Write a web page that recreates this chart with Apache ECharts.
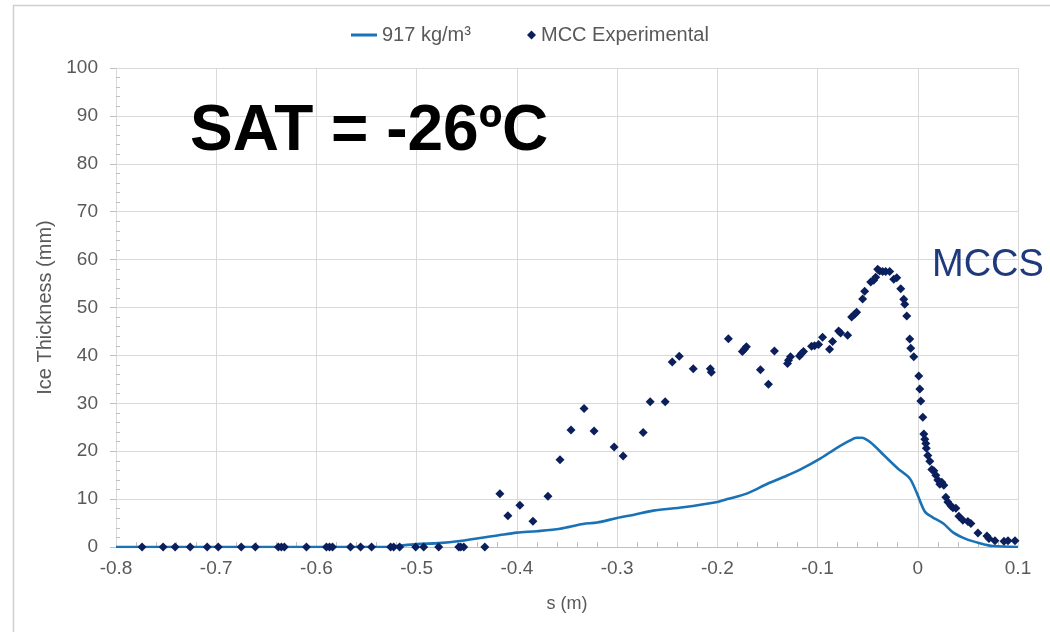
<!DOCTYPE html>
<html>
<head>
<meta charset="utf-8">
<title>Ice Thickness – SAT = -26ºC</title>
<script src="https://cdn.jsdelivr.net/npm/echarts@6/dist/echarts.min.js"></script>
<style>
  html, body { margin: 0; padding: 0; background: #ffffff; }
  #chart { width: 1050px; height: 632px; }
</style>
</head>
<body>
<div id="chart"></div>
<script>
// Simulated ice profile (917 kg/m³): surface distance s (m) and thickness (mm)
const lineX = [-0.80, -0.70, -0.60, -0.53, -0.52, -0.50, -0.478, -0.457, -0.417, -0.400, -0.380, -0.357,
  -0.334, -0.320, -0.300, -0.284, -0.264, -0.234, -0.200, -0.190, -0.170, -0.150, -0.134, -0.117,
  -0.097, -0.083, -0.068, -0.061, -0.056, -0.047, -0.034, -0.020, -0.008, -0.001, 0.007, 0.014,
  0.0255, 0.0355, 0.049, 0.062, 0.075, 0.100];
const lineY = [0, 0, 0, 0, 0.2, 0.6, 0.8, 1.25, 2.5, 3.0, 3.3, 3.8,
  4.8, 5.1, 6.05, 6.7, 7.6, 8.3, 9.4, 10.0, 11.2, 13.2, 14.6, 16.2,
  18.5, 20.4, 22.2, 22.8, 22.8, 21.8, 19.2, 16.4, 14.3, 11.3, 7.4, 6.3,
  4.9, 3.0, 1.6, 0.8, 0.2, 0];

// MCC experimental measurements
const expX = [-0.774, -0.753, -0.741, -0.726, -0.709, -0.698, -0.675, -0.661, -0.638, -0.635, -0.632,
  -0.610, -0.590, -0.587, -0.584, -0.566, -0.556, -0.545, -0.526, -0.523, -0.517, -0.501, -0.493,
  -0.478, -0.458, -0.456, -0.453, -0.432,
  -0.417, -0.409, -0.397, -0.384, -0.369, -0.357, -0.346, -0.333, -0.323, -0.303, -0.294, -0.274,
  -0.267, -0.252, -0.245, -0.238, -0.224, -0.207, -0.206, -0.189, -0.175, -0.173, -0.171, -0.157,
  -0.149, -0.143, -0.130, -0.129, -0.127, -0.118, -0.116, -0.114, -0.106, -0.103, -0.099, -0.095,
  -0.088, -0.085, -0.079, -0.077, -0.070, -0.066, -0.063, -0.061, -0.055, -0.053, -0.047, -0.044,
  -0.042, -0.040, -0.038, -0.035, -0.032, -0.028, -0.024, -0.021, -0.017, -0.014, -0.013, -0.011,
  -0.008, -0.007, -0.004, 0.001, 0.002, 0.003, 0.005, 0.006, 0.007, 0.008, 0.0085, 0.010,
  0.012, 0.014, 0.016, 0.018, 0.020, 0.022, 0.024, 0.026, 0.028, 0.030, 0.033, 0.035,
  0.038, 0.041, 0.045, 0.050, 0.053, 0.060, 0.069, 0.071, 0.077, 0.086, 0.090, 0.097];
const expY = [0, 0, 0, 0, 0, 0, 0, 0, 0, 0, 0,
  0, 0, 0, 0, 0, 0, 0, 0, 0, 0, 0, 0,
  0, 0, 0, 0, 0,
  11.1, 6.5, 8.7, 5.4, 10.6, 18.2, 24.4, 28.9, 24.2, 20.9, 19.0, 23.9,
  30.3, 30.3, 38.6, 39.8, 37.2, 37.2, 36.5, 43.5, 40.8, 41.3, 41.8, 37.0,
  34.0, 40.9, 38.3, 39.0, 39.7, 39.9, 40.4, 40.8, 41.9, 42.0, 42.3, 43.8,
  41.3, 42.9, 45.1, 44.7, 44.2, 48.0, 48.6, 49.0, 51.8, 53.4, 55.3, 55.7,
  56.3, 58.0, 57.6, 57.5, 57.5, 57.5, 55.9, 56.2, 53.9, 51.7, 50.7, 48.2,
  43.4, 41.5, 39.7, 35.7, 33.0, 30.5, 27.1, 23.6, 22.5, 21.6, 20.6, 19.1,
  17.9, 16.2, 15.9, 15.0, 14.0, 13.1, 13.5, 12.9, 10.4, 9.4, 8.6, 8.2,
  8.1, 6.4, 5.6, 5.3, 4.9, 2.9, 2.3, 1.8, 1.3, 1.2, 1.3, 1.3];

const seriesNames = ['917 kg/m³', 'MCC Experimental'];
const xName = 's (m)';
const yName = 'Ice Thickness (mm)';
const titleText = 'SAT = -26ºC';
const tagText = 'MCCS';

const lineData = lineX.map((x, i) => [x, lineY[i]]);
const expData = expX.map((x, i) => [x, expY[i]]);

const labelColor = '#595959';
const gridColor = '#d9d9d9';
const tickColor = '#bfbfbf';
const baseFont = 'Liberation Sans, Arial, sans-serif';

const chart = echarts.init(document.getElementById('chart'), null, { renderer: 'canvas' });

chart.setOption({
  animation: false,
  backgroundColor: '#ffffff',
  grid: { left: 116, right: 32, top: 68, bottom: 85, containLabel: false },
  legend: [
    {
      data: [seriesNames[0]],
      left: 346, top: 20,
      icon: 'rect', itemWidth: 26, itemHeight: 3,
      textStyle: { color: labelColor, fontSize: 20, fontFamily: baseFont }
    },
    {
      data: [seriesNames[1]],
      left: 522, top: 20,
      icon: 'diamond', itemWidth: 9, itemHeight: 9,
      textStyle: { color: labelColor, fontSize: 20, fontFamily: baseFont }
    }
  ],
  xAxis: {
    type: 'value',
    min: -0.8, max: 0.1, interval: 0.1,
    name: xName, nameLocation: 'middle', nameGap: 48,
    nameTextStyle: { color: labelColor, fontSize: 18, fontFamily: baseFont },
    axisLine: { show: true, onZero: false, lineStyle: { color: tickColor, width: 1 } },
    axisTick: { show: false, inside: true },
    minorTick: { show: true, splitNumber: 5, length: 5, lineStyle: { color: tickColor } },
    axisLabel: {
      color: labelColor, fontSize: 19, fontFamily: baseFont, margin: 12,
      formatter: v => String(Number(v.toFixed(1)))
    },
    splitLine: { show: true, lineStyle: { color: gridColor, width: 1 } }
  },
  yAxis: [
    {
      type: 'value',
      min: 0, max: 100, interval: 10,
      name: yName, nameLocation: 'middle', nameGap: 58,
      nameTextStyle: { color: labelColor, fontSize: 20, fontFamily: baseFont },
      axisLine: { show: true, onZero: false, lineStyle: { color: gridColor, width: 1 } },
      axisTick: { show: true, length: 6, lineStyle: { color: tickColor } },
      minorTick: { show: false },
      axisLabel: { color: labelColor, fontSize: 19, fontFamily: baseFont, margin: 18 },
      splitLine: { show: true, lineStyle: { color: gridColor, width: 1 } }
    },
    {
      // companion axis carrying the inside minor ticks
      type: 'value',
      position: 'left',
      min: 0, max: 100, interval: 10,
      axisLine: { show: false, onZero: false },
      axisTick: { show: false, inside: true },
      minorTick: { show: true, splitNumber: 5, length: 4, lineStyle: { color: tickColor } },
      axisLabel: { show: false },
      splitLine: { show: false }
    }
  ],
  series: [
    {
      name: seriesNames[0],
      type: 'line',
      data: lineData,
      showSymbol: false,
      symbol: 'none',
      smooth: 0.3,
      lineStyle: { color: '#1a72b6', width: 2.6 },
      itemStyle: { color: '#1a72b6' },
      z: 2
    },
    {
      name: seriesNames[1],
      type: 'scatter',
      data: expData,
      symbol: 'diamond',
      symbolSize: 9,
      itemStyle: { color: '#0b1f5c', opacity: 1 },
      z: 3
    }
  ],
  graphic: [
    // outer frame
    { type: 'line', shape: { x1: 13, y1: 5.5, x2: 1050, y2: 5.5 }, style: { stroke: '#d0d0d0', lineWidth: 1.5 }, silent: true },
    { type: 'line', shape: { x1: 13.5, y1: 5, x2: 13.5, y2: 632 }, style: { stroke: '#d0d0d0', lineWidth: 1.5 }, silent: true },
    {
      type: 'text', left: 190, top: 100, z: 10,
      style: { text: titleText, font: 'bold 64px ' + baseFont, fill: '#000000' }
    },
    {
      type: 'text', left: 932, top: 247, z: 10,
      style: { text: tagText, font: '38px ' + baseFont, fill: '#1e3a7c' }
    }
  ]
});
</script>
</body>
</html>
